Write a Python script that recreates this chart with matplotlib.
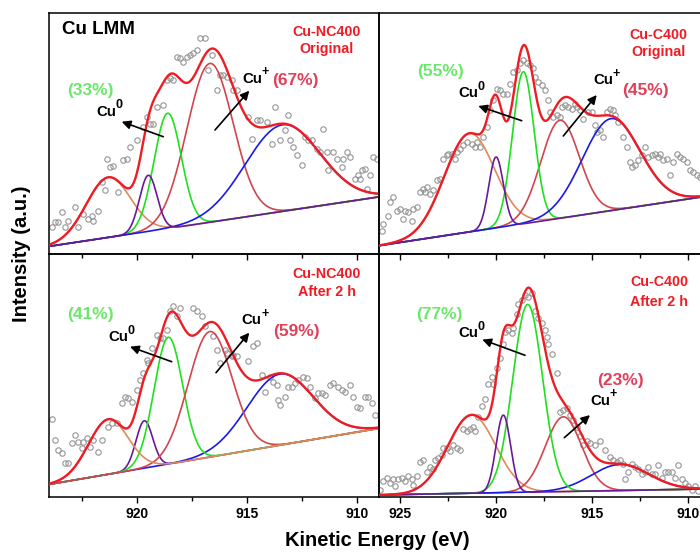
import numpy as np
import matplotlib
matplotlib.use('Agg')
import matplotlib.pyplot as plt
from matplotlib.ticker import MultipleLocator
from matplotlib.patches import FancyArrowPatch

plt.rcParams['font.family'] = ['Liberation Sans', 'DejaVu Sans']
plt.rcParams['font.weight'] = 'bold'

# ---------------- data ----------------
# component order: orange, purple, green (Cu0), red (Cu+), blue (Cu+)
comp_names = ['orange', 'purple', 'green', 'red', 'blue']

# Panel A: Cu-NC400 Original
a_energy = [923.89, 923.74, 923.59, 923.44, 923.29, 923.14, 922.83, 922.68, 922.45, 922.23,
            922.08, 922.00, 921.77, 921.62, 921.47, 921.39, 921.24, 921.09, 920.86, 920.64,
            920.48, 920.33, 920.03, 919.73, 919.58, 919.42, 919.27, 919.12, 918.82, 918.67,
            918.52, 918.36, 918.21, 918.06, 917.91, 917.76, 917.61, 917.45, 917.30, 917.15,
            916.92, 916.77, 916.62, 916.39, 916.24, 916.09, 915.94, 915.71, 915.64, 915.48,
            914.95, 914.80, 914.58, 914.42, 914.12, 913.89, 913.74, 913.52, 913.29, 913.14,
            913.06, 912.91, 912.76, 912.53, 912.38, 912.23, 912.08, 911.85, 911.70, 911.55,
            911.39, 911.32, 911.09, 910.94, 910.71, 910.64, 910.48, 910.33, 910.11, 909.95,
            909.88, 909.80, 909.65, 909.58, 909.42, 909.27, 909.12]
a_counts = [82, 97, 97, 127, 82, 102, 142, 82, 122, 107,
            117, 102, 132, 217, 192, 287, 262, 265, 187, 282,
            287, 322, 342, 382, 412, 392, 392, 442, 447, 522,
            527, 522, 592, 587, 577, 592, 597, 602, 612, 647,
            647, 552, 597, 492, 537, 537, 532, 522, 492, 492,
            412, 347, 402, 402, 397, 332, 442, 342, 372, 417,
            342, 322, 297, 267, 352, 342, 342, 317, 307, 377,
            307, 252, 307, 287, 262, 287, 307, 292, 227, 237,
            227, 252, 257, 197, 237, 292, 287]
a_centers = [921.32, 919.50, 918.62, 916.70, 913.40]
a_heights = [180, 168, 345, 475, 259]
a_sigmas = [1.00, 0.40, 0.62, 1.05, 1.70]
a_base_e = [924.0, 909.0]
a_base_i = [25, 173]

# Panel B: Cu-C400 Original
b_energy = [925.95, 925.87, 925.61, 925.52, 925.35, 925.17, 925.00, 924.83, 924.74, 924.57,
            924.39, 924.31, 924.13, 923.96, 923.78, 923.70, 923.61, 923.44, 923.26, 923.09,
            922.92, 922.74, 922.57, 922.48, 922.31, 922.14, 922.05, 921.88, 921.70, 921.53,
            921.27, 921.09, 921.01, 920.83, 920.66, 920.49, 920.31, 920.14, 919.97, 919.79,
            919.62, 919.44, 919.27, 919.10, 918.92, 918.75, 918.58, 918.40, 918.23, 918.06,
            917.97, 917.80, 917.62, 917.45, 917.27, 917.19, 917.01, 916.84, 916.67, 916.58,
            916.41, 916.23, 916.06, 915.89, 915.80, 915.63, 915.45, 915.19, 915.02, 914.84,
            914.76, 914.58, 914.41, 914.24, 914.06, 913.89, 913.80, 913.63, 913.37, 913.19,
            913.02, 912.93, 912.76, 912.59, 912.41, 912.24, 912.07, 911.89, 911.72, 911.55,
            911.46, 911.28, 911.11, 910.94, 910.76, 910.59, 910.42, 910.24, 910.07, 909.90,
            909.72, 909.55, 909.38]
b_counts = [72, 92, 117, 157, 172, 132, 137, 107, 132, 127,
            102, 137, 142, 187, 197, 187, 202, 182, 192, 222,
            227, 287, 297, 302, 302, 287, 307, 317, 327, 337,
            332, 322, 337, 322, 352, 382, 432, 462, 497, 492,
            482, 482, 512, 547, 552, 572, 582, 572, 567, 557,
            532, 517, 507, 492, 462, 427, 412, 417, 412, 442,
            447, 442, 437, 452, 442, 432, 407, 427, 427, 387,
            367, 372, 352, 427, 437, 432, 417, 397, 352, 322,
            277, 262, 267, 282, 297, 322, 292, 297, 302, 292,
            302, 282, 287, 237, 277, 302, 292, 287, 277, 252,
            247, 237, 232]
b_centers = [921.39, 920.00, 918.58, 916.67, 914.01]
b_heights = [295, 212, 455, 293, 275]
b_sigmas = [1.30, 0.38, 0.56, 1.00, 1.50]
b_base_e = [926.1, 909.4]
b_base_i = [27, 172]

# Panel C: Cu-NC400 After 2 h
c_energy = [923.89, 923.74, 923.59, 923.44, 923.29, 923.14, 922.98, 922.83, 922.68, 922.53,
            922.45, 922.30, 922.15, 922.00, 921.77, 921.62, 921.32, 921.17, 920.94, 920.71,
            920.56, 920.41, 920.26, 920.03, 919.88, 919.73, 919.58, 919.50, 919.35, 919.12,
            918.97, 918.82, 918.67, 918.52, 918.36, 918.21, 918.06, 917.45, 917.30, 917.08,
            916.92, 916.55, 916.39, 916.24, 916.02, 915.94, 915.71, 915.64, 915.48, 914.95,
            914.73, 914.58, 914.35, 914.20, 913.97, 913.82, 913.67, 913.59, 913.52, 913.29,
            913.14, 912.98, 912.83, 912.68, 912.45, 912.30, 912.15, 911.92, 911.77, 911.62,
            911.47, 911.24, 911.09, 910.86, 910.71, 910.56, 910.33, 910.18, 910.03, 909.88,
            909.65, 909.50, 909.35, 909.20]
c_counts = [232, 170, 140, 132, 100, 100, 160, 185, 165, 145,
            165, 175, 150, 170, 135, 170, 210, 220, 220, 280,
            300, 295, 285, 320, 350, 370, 410, 400, 445, 485,
            475, 475, 500, 555, 570, 540, 565, 565, 555, 540,
            510, 480, 440, 400, 440, 430, 420, 425, 420, 405,
            450, 460, 365, 315, 360, 345, 335, 290, 275, 300,
            330, 330, 340, 350, 360, 355, 330, 295, 310, 310,
            305, 335, 340, 330, 320, 315, 335, 300, 270, 265,
            300, 300, 280, 245]
c_centers = [921.32, 919.68, 918.59, 916.70, 913.52]
c_heights = [165, 142, 380, 376, 213]
c_sigmas = [0.90, 0.38, 0.65, 1.00, 1.50]
c_base_e = [924.0, 909.0]
c_base_i = [37, 205]

# Panel D: Cu-C400 After 2 h
d_energy = [926.04, 925.87, 925.69, 925.52, 925.35, 925.26, 925.09, 924.91, 924.74, 924.57,
            924.39, 924.31, 924.13, 923.96, 923.78, 923.61, 923.44, 923.26, 923.18, 923.00,
            922.83, 922.74, 922.57, 922.40, 922.22, 922.05, 921.88, 921.70, 921.53, 921.35,
            921.18, 921.09, 920.92, 920.75, 920.57, 920.40, 920.23, 920.14, 919.97, 919.79,
            919.62, 919.53, 919.36, 919.18, 919.10, 918.92, 918.84, 918.66, 918.49, 918.32,
            918.14, 917.97, 917.80, 917.62, 917.45, 917.36, 917.27, 917.10, 916.84, 916.67,
            916.49, 916.32, 916.15, 915.97, 915.80, 915.63, 915.45, 915.28, 915.10, 914.84,
            914.58, 914.32, 914.06, 913.89, 913.72, 913.54, 913.37, 913.28, 913.11, 912.93,
            912.76, 912.59, 912.41, 912.24, 912.07, 911.89, 911.72, 911.55, 911.37, 911.20,
            911.02, 910.85, 910.68, 910.50, 910.33, 910.16, 909.98, 909.81, 909.64, 909.46]
d_counts = [20, 45, 55, 40, 50, 30, 50, 55, 45, 60,
            50, 35, 60, 100, 105, 70, 85, 80, 105, 110,
            120, 140, 140, 130, 150, 140, 135, 195, 190, 195,
            200, 190, 230, 260, 280, 325, 345, 325, 370, 400,
            440, 475, 480, 470, 485, 525, 555, 565, 580, 575,
            585, 535, 515, 500, 480, 460, 440, 410, 355, 245,
            250, 255, 235, 220, 200, 175, 150, 160, 155, 150,
            160, 135, 115, 105, 100, 105, 95, 50, 70, 95,
            85, 80, 65, 70, 85, 65, 65, 90, 55, 70,
            70, 70, 55, 90, 50, 40, 30, 20, 30, 15]
d_centers = [921.27, 919.62, 918.35, 916.49, 913.54]
d_heights = [225, 223, 540, 215, 75]
d_sigmas = [1.25, 0.38, 0.78, 0.95, 1.50]
d_base_e = [926.1, 909.4]
d_base_i = [5, 22]

# ---------------- style ----------------
comp_colors = {'orange': '#e08a5c', 'purple': '#6a1a96', 'green': '#1fe01f',
               'red': '#d2454c', 'blue': '#1a1ae8'}
env_color = '#ee1c24'

W, H = 700, 552
fig = plt.figure(figsize=(7.0, 5.52), dpi=100)

def fx(x):
    return x / W

def fy(y):
    return 1 - y / H

panels = [
    dict(e=a_energy, i=a_counts, c=a_centers, h=a_heights, s=a_sigmas, be=a_base_e, bi=a_base_i,
         pos=[49.3, 13.3, 379.3, 254.0], xlim=(924.0, 909.0), ylim=(2, 722), labels=False,
         order=['orange', 'red', 'green', 'blue', 'purple'], right=True),
    dict(e=b_energy, i=b_counts, c=b_centers, h=b_heights, s=b_sigmas, be=b_base_e, bi=b_base_i,
         pos=[379.3, 13.3, 700.0, 254.0], xlim=(926.08, 909.375), ylim=(2, 722), labels=False,
         order=['orange', 'red', 'green', 'blue', 'purple'], right=False),
    dict(e=c_energy, i=c_counts, c=c_centers, h=c_heights, s=c_sigmas, be=c_base_e, bi=c_base_i,
         pos=[49.3, 254.0, 379.3, 496.7], xlim=(924.0, 909.0), ylim=(0, 727), labels=True,
         order=['purple', 'blue', 'green', 'red', 'orange'], right=True),
    dict(e=d_energy, i=d_counts, c=d_centers, h=d_heights, s=d_sigmas, be=d_base_e, bi=d_base_i,
         pos=[379.3, 254.0, 700.0, 496.7], xlim=(926.08, 909.375), ylim=(0, 698), labels=True,
         order=['orange', 'red', 'blue', 'green', 'purple'], right=False),
]

for p in panels:
    x0, y0, x1, y1 = p['pos']
    ax = fig.add_axes([fx(x0), fy(y1), (x1 - x0) / W, (y1 - y0) / H])
    ax.patch.set_alpha(0)
    ax.set_xlim(*p['xlim'])
    ax.set_ylim(*p['ylim'])
    xs = np.linspace(p['xlim'][0], p['xlim'][1], 600)
    base = np.interp(xs, p['be'][::-1], p['bi'][::-1])
    comps = {}
    for name, c, h, s in zip(comp_names, p['c'], p['h'], p['s']):
        comps[name] = h * np.exp(-(xs - c) ** 2 / (2 * s ** 2))
    ax.plot(p['e'], p['i'], 'o', mfc='none', mec='#959595', ms=3.9, mew=0.8, zorder=1)
    for k, name in enumerate(p['order']):
        ax.plot(xs, base + comps[name], color=comp_colors[name], lw=1.2, zorder=2 + k)
    env = base + sum(comps.values())
    ax.plot(xs, env, color=env_color, lw=1.7, zorder=10)
    ax.xaxis.set_major_locator(MultipleLocator(5))
    ax.xaxis.set_minor_locator(MultipleLocator(2.5))
    ax.set_yticks([])
    ax.tick_params(axis='x', which='major', direction='out', length=4.5, width=1.0,
                   labelsize=10, pad=3, labelbottom=p['labels'])
    ax.tick_params(axis='x', which='minor', direction='out', length=3.2, width=1.0)
    for sp in ax.spines.values():
        sp.set_linewidth(1.1)
    if not p['right']:
        ax.spines['right'].set_visible(False)
    for lab in ax.get_xticklabels():
        lab.set_fontweight('bold')

def txt(x, y, s, **kw):
    fig.text(fx(x), fy(y), s, **kw)

def arrow(xa, ya, xb, yb):
    fig.add_artist(FancyArrowPatch((fx(xa), fy(ya)), (fx(xb), fy(yb)), transform=fig.transFigure,
                                   arrowstyle='-|>', mutation_scale=13, lw=1.2, color='black',
                                   shrinkA=0, shrinkB=0, zorder=20))

def cu_label(x, y, sup):
    txt(x, y, 'Cu', fontsize=10.8, fontweight='bold', ha='left', va='baseline')
    txt(x + 19.5, y - 7.2, sup, fontsize=9, fontweight='bold', ha='left', va='baseline')

green_txt = '#6be86b'
pink_txt = '#e0405a'
lab_red = '#ee1c24'

# Panel A
txt(62, 30, 'Cu LMM', fontsize=13.5, fontweight='bold', ha='left', va='center')
txt(327, 36, 'Cu-NC400', fontsize=10.3, fontweight='bold', color=lab_red, ha='center', va='baseline')
txt(327, 53.3, 'Original', fontsize=10.3, fontweight='bold', color=lab_red, ha='center', va='baseline')
txt(90, 90, '(33%)', fontsize=12.5, fontweight='bold', color=green_txt, ha='center', va='center')
cu_label(96, 115.7, '0')
arrow(163.3, 136.7, 121.7, 121.7)
cu_label(242, 82.7, '+')
txt(295.5, 80.5, '(67%)', fontsize=12.5, fontweight='bold', color=pink_txt, ha='center', va='center')
arrow(215, 130, 249.3, 90.7)

# Panel B
txt(658.3, 39, 'Cu-C400', fontsize=10.3, fontweight='bold', color=lab_red, ha='center', va='baseline')
txt(658.3, 56, 'Original', fontsize=10.3, fontweight='bold', color=lab_red, ha='center', va='baseline')
txt(441, 71.5, '(55%)', fontsize=12.5, fontweight='bold', color=green_txt, ha='center', va='center')
cu_label(458.3, 96.7, '0')
arrow(521.7, 120.7, 478.3, 106)
cu_label(593, 84, '+')
txt(645, 91, '(45%)', fontsize=12.5, fontweight='bold', color=pink_txt, ha='center', va='center')
arrow(563.3, 136, 596.7, 95)

# Panel C
txt(327, 278.3, 'Cu-NC400', fontsize=10.3, fontweight='bold', color=lab_red, ha='center', va='baseline')
txt(327, 296, 'After 2 h', fontsize=10.3, fontweight='bold', color=lab_red, ha='center', va='baseline')
txt(90, 315, '(41%)', fontsize=12.5, fontweight='bold', color=green_txt, ha='center', va='center')
cu_label(108.3, 340.7, '0')
arrow(171.7, 361.7, 130, 346.7)
cu_label(241.7, 324, '+')
txt(296.7, 331.7, '(59%)', fontsize=12.5, fontweight='bold', color=pink_txt, ha='center', va='center')
arrow(216, 372.7, 249.3, 332.7)

# Panel D
txt(659, 286.4, 'Cu-C400', fontsize=10.3, fontweight='bold', color=lab_red, ha='center', va='baseline')
txt(659, 305.5, 'After 2 h', fontsize=10.3, fontweight='bold', color=lab_red, ha='center', va='baseline')
txt(439, 314.2, '(77%)', fontsize=12.5, fontweight='bold', color=green_txt, ha='center', va='center')
cu_label(458.3, 336.8, '0')
arrow(525, 355.3, 482.3, 339.6)
txt(620, 380.3, '(23%)', fontsize=12.5, fontweight='bold', color=pink_txt, ha='center', va='center')
cu_label(590, 404.7, '+')
arrow(564.3, 437.7, 590, 415.1)

# axis labels
txt(22, 254, 'Intensity (a.u.)', fontsize=14.5, fontweight='bold', rotation=90, ha='center', va='center')
txt(377, 540, 'Kinetic Energy (eV)', fontsize=14.5, fontweight='bold', ha='center', va='center')

fig.savefig('out.png', dpi=100)
